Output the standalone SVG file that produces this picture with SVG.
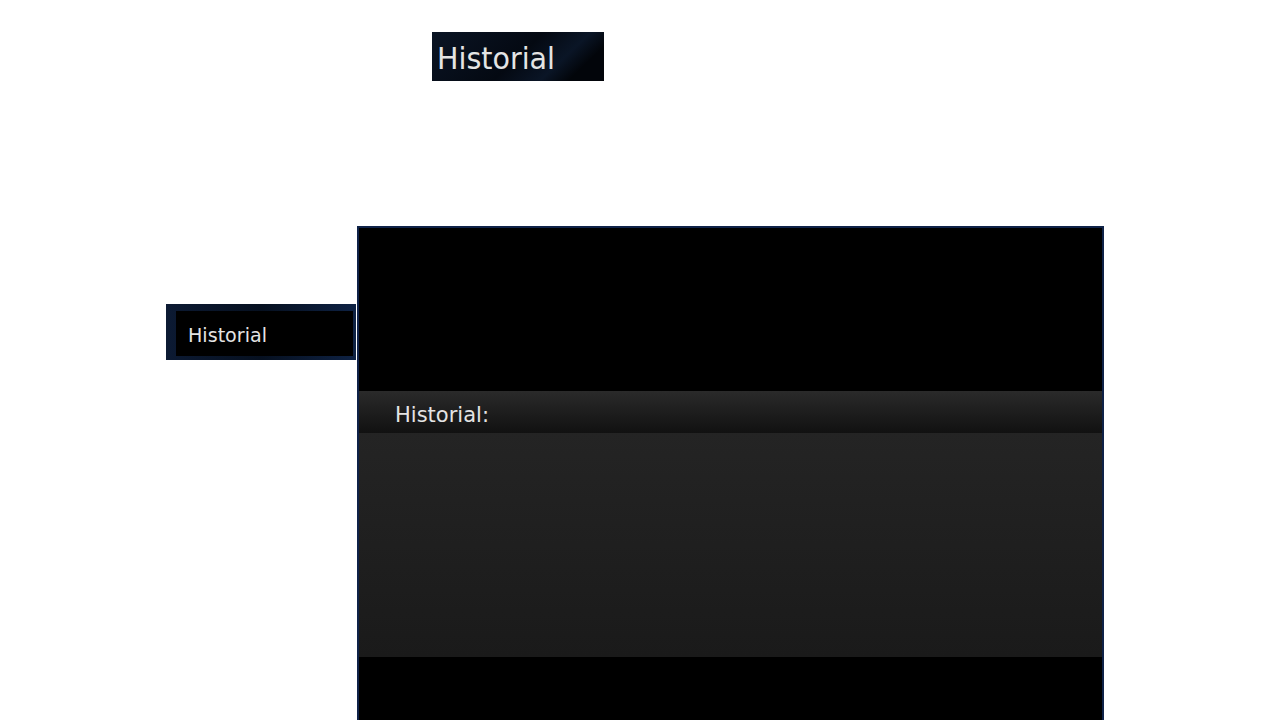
<svg xmlns="http://www.w3.org/2000/svg" width="1280" height="720" viewBox="0 0 1280 720">
<defs>
<linearGradient id="topbg" x1="0" y1="0" x2="1" y2="0.3">
<stop offset="0" stop-color="#0a1424"/>
<stop offset="0.6" stop-color="#040912"/>
<stop offset="0.85" stop-color="#0a1526"/>
<stop offset="1" stop-color="#02050a"/>
</linearGradient>
<linearGradient id="hdr" x1="0" y1="0" x2="0" y2="1">
<stop offset="0" stop-color="#2a2a2a"/>
<stop offset="1" stop-color="#111111"/>
</linearGradient>
<linearGradient id="body" x1="0" y1="0" x2="0" y2="1">
<stop offset="0" stop-color="#242424"/>
<stop offset="1" stop-color="#1a1a1a"/>
</linearGradient>
<linearGradient id="leftbg" x1="0" y1="0" x2="1" y2="0">
<stop offset="0" stop-color="#0c1a33"/>
<stop offset="0.5" stop-color="#061020"/>
<stop offset="1" stop-color="#0e2244"/>
</linearGradient>
</defs>
<style>
.t{font-family:"DejaVu Sans","Noto Sans",sans-serif;fill:#e4e4e4}
</style>
<rect width="1280" height="720" fill="#ffffff"/>
<g id="title">
<rect x="432" y="32" width="172" height="49" fill="url(#topbg)"/>
<text class="t" x="437" y="69" font-size="31" textLength="118" lengthAdjust="spacingAndGlyphs">Historial</text>
</g>
<g id="menu-item">
<rect x="166" y="304" width="190" height="56" fill="url(#leftbg)"/>
<rect x="176" y="311" width="177" height="45" fill="#000000"/>
<text class="t" x="188" y="342" font-size="20" textLength="79" lengthAdjust="spacingAndGlyphs">Historial</text>
</g>
<g id="panel">
<rect x="357" y="226" width="747" height="494" fill="#000000"/>
<rect x="359" y="391" width="743" height="42" fill="url(#hdr)"/>
<rect x="359" y="433" width="743" height="224" fill="url(#body)"/>
<rect x="358" y="227" width="745" height="494" fill="none" stroke="#0f2248" stroke-width="2"/>
<text class="t" x="395" y="422" font-size="22" textLength="94" lengthAdjust="spacingAndGlyphs">Historial:</text>
</g>
<g id="connectors"/>
</svg>
